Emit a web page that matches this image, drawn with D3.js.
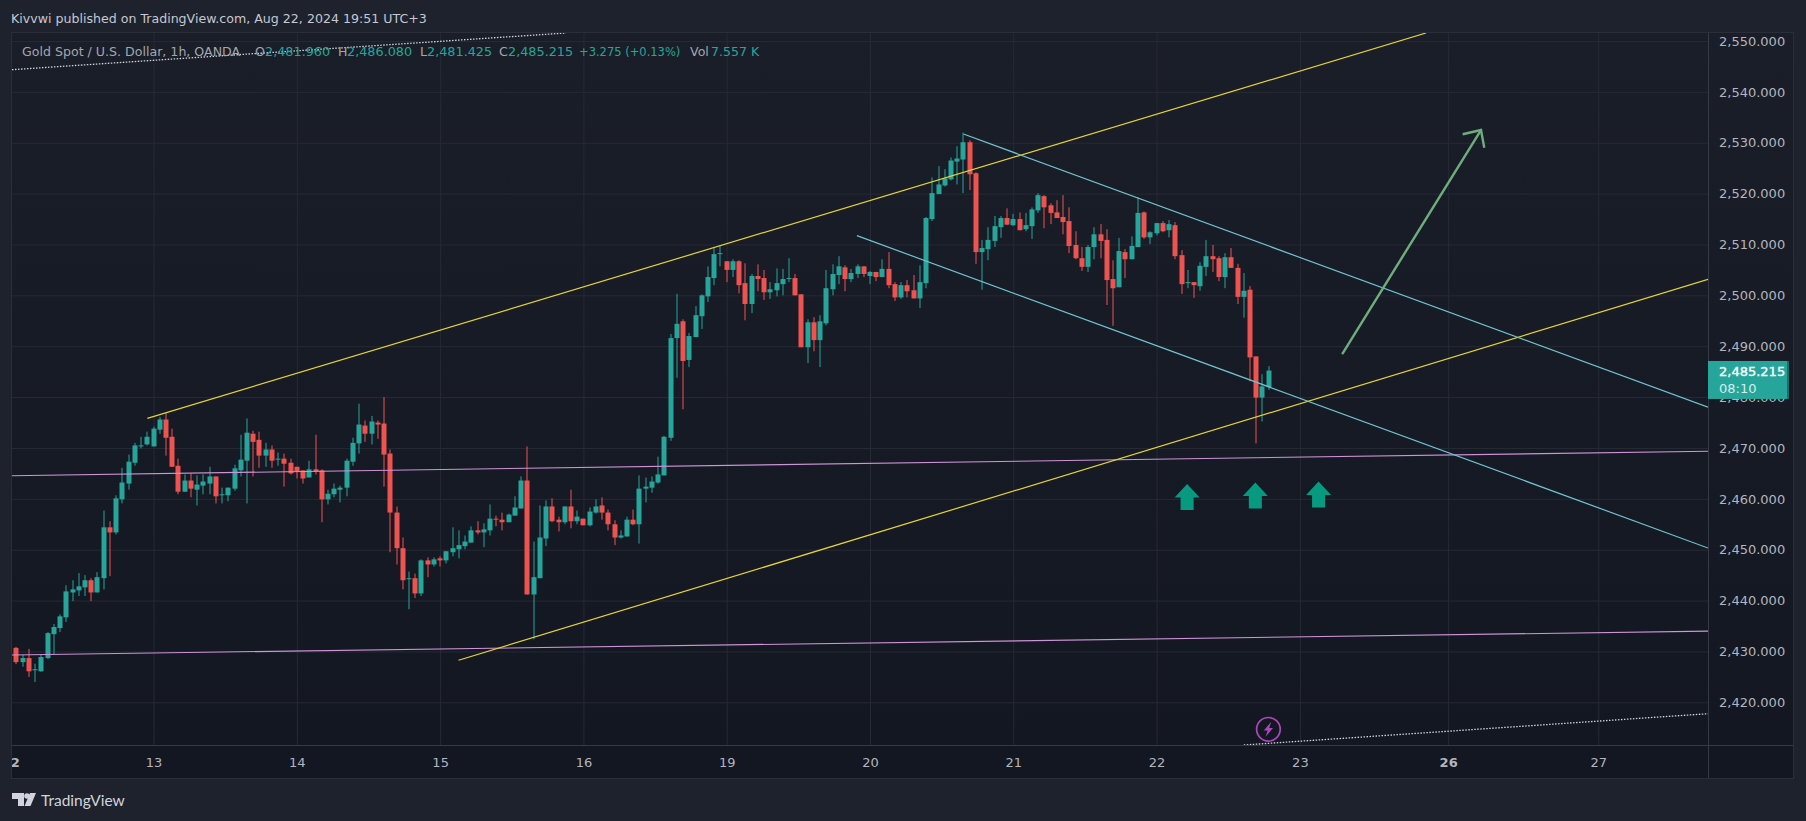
<!DOCTYPE html>
<html><head><meta charset="utf-8">
<script src="https://cdnjs.cloudflare.com/ajax/libs/d3/7.9.0/d3.min.js"></script>
<style>html,body{margin:0;padding:0;background:#1e222d;overflow:hidden}svg{display:block}text{font-family:"DejaVu Sans",sans-serif}</style>
</head><body><svg id="c" width="1806" height="821"></svg>
<script>
const opens=[2430.7,2427.9,2428.7,2426.4,2426.1,2428.7,2433.4,2434.6,2436.7,2441.6,
2442.0,2442.6,2444.0,2441.6,2444.4,2454.4,2453.4,2459.9,2463.0,2467.1,
2470.3,2470.7,2470.3,2473.6,2475.6,2472.2,2466.5,2461.4,2463.6,2461.8,
2462.6,2463.0,2464.4,2460.7,2460.7,2462.0,2465.6,2467.5,2472.8,2471.6,
2468.5,2469.7,2467.7,2467.9,2467.1,2466.3,2465.6,2464.2,2465.8,2465.6,
2459.9,2460.9,2461.8,2462.2,2467.3,2470.9,2474.4,2472.8,2475.0,2474.8,
2468.9,2457.3,2450.3,2444.2,2444.4,2441.4,2447.9,2447.1,2448.3,2447.9,
2449.5,2450.1,2450.7,2451.4,2453.8,2453.4,2453.8,2456.1,2455.9,2455.4,
2456.7,2458.1,2463.6,2441.2,2444.4,2452.2,2458.5,2455.9,2455.4,2458.5,
2455.6,2456.1,2454.8,2457.3,2458.7,2457.3,2455.0,2452.4,2452.6,2455.9,
2455.0,2462.0,2462.2,2463.2,2464.6,2472.0,2491.6,2494.9,2487.3,2491.8,
2495.9,2499.8,2503.4,2508.1,2506.7,2505.0,2506.7,2502.4,2498.3,2503.8,
2503.4,2500.6,2501.0,2502.2,2503.2,2503.4,2500.2,2489.8,2494.7,2491.2,
2494.5,2501.2,2504.0,2505.5,2503.2,2504.2,2505.7,2503.8,2504.6,2503.6,
2505.2,2502.2,2499.6,2502.0,2501.0,2499.4,2502.4,2515.0,2519.9,2521.6,
2522.8,2526.3,2526.7,2530.1,2524.0,2508.5,2509.1,2510.7,2513.4,2515.2,
2513.8,2515.0,2513.0,2513.6,2516.7,2519.5,2517.7,2516.3,2515.4,2514.6,
2509.9,2507.3,2505.6,2509.5,2512.0,2510.9,2503.2,2501.6,2508.5,2507.1,
2509.5,2516.3,2511.4,2512.2,2514.2,2512.8,2513.8,2507.9,2502.4,2502.6,
2501.8,2505.6,2507.7,2507.3,2503.6,2507.5,2505.4,2499.7,2501.1,2488.0,
2479.9,2481.96];
const highs=[2430.9,2429.3,2430.5,2427.6,2429.5,2433.8,2435.4,2437.3,2443.0,2444.0,
2445.4,2445.0,2444.4,2445.6,2457.7,2455.6,2460.7,2466.1,2468.7,2471.0,
2472.2,2473.2,2474.2,2476.1,2476.9,2473.8,2467.9,2464.8,2465.0,2464.6,
2464.8,2466.3,2464.4,2462.2,2462.2,2466.7,2472.6,2475.8,2473.4,2473.2,
2471.0,2470.5,2469.1,2468.9,2467.9,2466.3,2465.6,2467.5,2472.6,2465.8,
2461.8,2463.0,2462.6,2467.9,2472.0,2478.7,2475.4,2476.3,2475.4,2480.0,
2469.7,2458.5,2452.4,2445.7,2445.3,2448.1,2448.5,2448.5,2448.7,2449.7,
2454.4,2453.8,2452.8,2454.6,2455.6,2455.2,2458.9,2456.7,2457.3,2457.1,
2460.5,2464.4,2470.3,2451.6,2458.7,2459.7,2460.1,2456.5,2458.5,2461.8,
2457.7,2456.1,2458.3,2459.9,2460.3,2457.9,2455.8,2453.8,2456.5,2457.9,
2464.6,2464.2,2464.4,2468.3,2472.4,2492.4,2500.3,2495.3,2492.6,2497.9,
2500.2,2505.7,2509.3,2509.9,2506.7,2507.1,2506.9,2506.3,2504.2,2506.1,
2505.0,2502.6,2505.3,2505.2,2507.3,2504.2,2500.2,2495.3,2495.7,2496.1,
2505.0,2506.1,2507.7,2505.9,2505.2,2506.1,2505.7,2504.8,2504.6,2507.1,
2508.5,2502.6,2502.6,2503.0,2504.0,2505.9,2515.4,2523.2,2525.4,2524.8,
2527.1,2529.3,2532.0,2530.5,2524.2,2510.9,2513.4,2515.6,2515.6,2517.1,
2516.0,2516.3,2516.2,2517.3,2520.1,2519.7,2518.1,2518.7,2519.7,2517.3,
2512.6,2509.5,2509.9,2513.4,2514.0,2513.0,2506.9,2511.3,2509.1,2511.6,
2519.3,2516.5,2512.6,2514.2,2514.6,2514.8,2514.4,2508.9,2505.0,2502.6,
2506.5,2510.9,2509.9,2507.7,2508.3,2509.3,2506.2,2504.4,2501.8,2488.0,
2484.5,2486.08];
const lows=[2427.5,2427.0,2425.0,2424.0,2426.0,2428.5,2429.3,2433.8,2435.8,2439.9,
2440.9,2440.9,2439.9,2441.6,2442.2,2444.8,2453.0,2459.1,2461.8,2466.5,
2469.9,2470.5,2470.3,2472.8,2468.5,2466.3,2460.9,2461.4,2460.3,2458.7,
2460.9,2460.9,2459.1,2459.1,2459.5,2461.6,2464.4,2459.1,2464.4,2466.1,
2466.3,2466.1,2466.5,2462.4,2464.8,2464.0,2463.0,2464.2,2464.8,2455.4,
2458.9,2460.3,2459.3,2460.5,2466.5,2468.9,2471.2,2470.7,2471.8,2462.4,
2449.5,2447.1,2442.2,2438.3,2440.5,2440.9,2444.6,2446.7,2446.7,2447.3,
2448.7,2448.3,2450.1,2451.4,2453.0,2450.5,2452.8,2454.6,2453.8,2455.4,
2456.7,2458.1,2441.2,2432.4,2444.4,2450.7,2455.4,2453.6,2455.0,2454.2,
2455.0,2454.8,2454.6,2457.1,2455.9,2453.8,2450.9,2452.2,2452.6,2454.8,
2451.2,2459.3,2461.2,2463.0,2464.6,2471.4,2483.8,2477.6,2485.9,2491.8,
2493.4,2498.7,2502.0,2505.7,2502.6,2503.6,2500.4,2495.1,2496.5,2500.8,
2499.1,2499.3,2499.8,2500.0,2502.6,2500.0,2489.8,2486.7,2489.0,2485.9,
2494.1,2500.0,2502.2,2500.8,2502.6,2503.4,2503.6,2502.2,2502.8,2503.6,
2501.4,2498.9,2499.3,2499.6,2499.4,2497.5,2501.4,2514.6,2519.9,2521.4,
2522.6,2521.8,2520.1,2520.7,2506.2,2501.1,2506.9,2509.5,2511.3,2513.8,
2513.6,2512.8,2512.6,2511.1,2516.2,2513.2,2514.0,2515.2,2512.0,2508.3,
2507.1,2504.8,2504.6,2507.1,2507.3,2498.1,2494.0,2501.6,2503.4,2507.1,
2509.5,2511.1,2510.1,2511.8,2512.4,2511.4,2507.1,2500.3,2501.4,2499.5,
2500.9,2503.8,2504.6,2502.8,2501.4,2505.4,2498.3,2495.6,2483.1,2470.9,
2475.2,2481.425];
const closes=[2427.9,2428.7,2426.1,2426.5,2428.9,2433.6,2434.8,2436.9,2441.8,2442.2,
2442.8,2444.0,2441.6,2444.6,2454.4,2453.4,2460.1,2463.2,2467.3,2470.5,
2470.5,2472.2,2473.8,2475.6,2472.0,2466.3,2461.4,2463.6,2462.0,2462.8,
2463.4,2464.4,2460.5,2460.9,2462.2,2466.0,2467.7,2473.0,2471.2,2468.5,
2469.7,2467.5,2467.9,2466.9,2465.0,2465.4,2464.0,2465.8,2465.4,2459.9,
2461.0,2462.0,2462.2,2467.5,2471.0,2474.6,2472.8,2475.2,2474.6,2468.7,
2457.3,2450.3,2444.0,2444.4,2441.4,2447.9,2447.1,2448.1,2447.9,2449.7,
2450.3,2450.9,2451.6,2453.8,2453.4,2454.0,2456.1,2455.9,2455.4,2456.9,
2458.3,2463.6,2441.2,2444.6,2452.4,2458.5,2455.6,2455.4,2458.5,2455.6,
2456.5,2454.8,2457.5,2458.5,2457.3,2455.0,2452.4,2452.8,2455.9,2455.0,
2462.0,2462.4,2463.4,2464.8,2472.2,2491.6,2494.4,2487.1,2492.0,2496.1,
2500.0,2503.6,2508.1,2508.3,2505.0,2506.7,2502.0,2498.3,2503.8,2503.2,
2500.6,2501.2,2502.4,2503.2,2503.4,2500.0,2489.8,2494.7,2491.2,2494.9,
2501.4,2504.2,2505.7,2503.2,2504.4,2505.7,2504.2,2504.6,2503.6,2505.2,
2502.0,2499.6,2502.0,2500.8,2499.4,2502.6,2515.2,2520.1,2521.8,2523.0,
2526.5,2526.9,2530.1,2523.8,2508.5,2509.3,2510.9,2513.6,2515.2,2513.9,
2515.0,2512.8,2513.8,2516.9,2519.7,2517.3,2516.2,2515.2,2514.4,2509.7,
2507.3,2505.6,2509.5,2512.0,2510.7,2503.0,2501.4,2508.7,2507.1,2509.7,
2516.2,2511.4,2512.4,2514.2,2512.6,2514.0,2507.7,2502.2,2502.6,2502.0,
2505.8,2507.7,2507.1,2503.6,2507.5,2505.4,2499.7,2500.9,2487.8,2479.9,
2482.1,2485.215];

const priceTicks=[2550,2540,2530,2520,2510,2500,2490,2480,2470,2460,2450,2440,2430,2420];
const dayBars=[-1,22,45,68,91,114,137,160,183,206,229.8,253.9];
const dayLabels=["12","13","14","15","16","19","20","21","22","23","26","27"];

// Drawing tools: [bar, price] pairs
const yellowUpper=[[21.0,2475.83],[226.25,2551.57]];
const yellowLower=[[70.95,2428.26],[271.51,2503.16]];
const cyanUpper=[[152,2531.72],[271.51,2478.0]];
const cyanLower=[[134.9,2511.73],[271.51,2450.33]];
const pinkUpper=[[-0.72,2464.55],[271.51,2469.35]];
const pinkLower=[[-0.72,2429.3],[271.51,2434.0]];
const dottedUpper=[[-0.72,2544.36],[88.2,2551.57]];
const dottedLower=[[197,2411.61],[271.51,2417.76]];
const greenArrow=[[212.87,2488.6],[235.07,2532.5]];
const greenArrowHead=[[232.13,2531.66],[235.07,2532.5],[235.6,2529.03]];
const upArrows=[[187.9,2462.9],[198.85,2463.2],[209,2463.4]];
const boltMark=[200.95,2414.7];
const lastPrice=2485.215;

const L=12,R=1708,T=33,B=745,FR=1793,FB=778;
const x=d3.scaleLinear().domain([-0.7223,271.51]).range([L,R]);
const y=d3.scaleLinear().domain([2411.61,2551.57]).range([B,T]);
const svg=d3.select("#c");
const defs=svg.append("defs");
const g=defs.append("linearGradient").attr("id","bg").attr("x1",0).attr("x2",0).attr("y1",0).attr("y2",1);
g.append("stop").attr("offset",0).attr("stop-color","#1a1e29");
g.append("stop").attr("offset",1).attr("stop-color","#131722");
defs.append("clipPath").attr("id","plot").append("rect").attr("x",L).attr("y",T).attr("width",R-L).attr("height",B-T);
defs.append("clipPath").attr("id","timeclip").append("rect").attr("x",L).attr("y",B).attr("width",R-L).attr("height",FB-B);

svg.append("rect").attr("width",1806).attr("height",821).attr("fill","#1e222d");
svg.append("rect").attr("x",L).attr("y",T).attr("width",FR-L).attr("height",B-T).attr("fill","url(#bg)");
svg.append("rect").attr("x",L).attr("y",B).attr("width",FR-L).attr("height",FB-B).attr("fill","#131722");

// grid
const gridY=svg.append("g").attr("transform",`translate(${L},0)`).call(d3.axisRight(y).tickValues(priceTicks).tickSize(R-L).tickFormat(""));
const gridX=svg.append("g").attr("transform",`translate(0,${T})`).call(d3.axisBottom(x).tickValues(dayBars.slice(1)).tickSize(B-T).tickFormat(""));
[gridY,gridX].forEach(a=>{a.select(".domain").remove();a.selectAll("line").attr("stroke","#262a35").attr("stroke-width",1);});

const plot=svg.append("g").attr("clip-path","url(#plot)");
const line=d3.line().x(d=>x(d[0])).y(d=>y(d[1]));
function draw(pts,color,w,dash){const p=plot.append("path").attr("d",line(pts)).attr("fill","none").attr("stroke",color).attr("stroke-width",w);if(dash)p.attr("stroke-dasharray",dash);return p;}

draw(dottedUpper,"#d1d4dc",1.3,"1.5 1.5");
draw(dottedLower,"#d1d4dc",1.3,"1.5 1.5");

// candles
const candles=opens.map((o,i)=>({i,o,h:highs[i],l:lows[i],c:closes[i]}));
const up="#26a69a",dn="#ef5350";
const cg=plot.append("g");
cg.selectAll("rect.w").data(candles).join("rect").attr("class","w")
 .attr("x",d=>Math.round(x(d.i))-0.5).attr("width",1)
 .attr("y",d=>y(d.h)).attr("height",d=>Math.max(1,y(d.l)-y(d.h)))
 .attr("fill",d=>d.c>=d.o?up:dn);
cg.selectAll("rect.b").data(candles).join("rect").attr("class","b")
 .attr("x",d=>Math.round(x(d.i))-2.5).attr("width",5)
 .attr("y",d=>y(Math.max(d.o,d.c))).attr("height",d=>Math.max(1,Math.abs(y(d.o)-y(d.c))))
 .attr("fill",d=>d.c>=d.o?up:dn);

draw(pinkUpper,"#ce93d8",1.1);
draw(pinkLower,"#ce93d8",1.1);
draw(yellowUpper,"#e6d332",1.2);
draw(yellowLower,"#e6d332",1.2);
draw(cyanUpper,"#6fc3cf",1.2);
draw(cyanLower,"#6fc3cf",1.2);
draw(greenArrow,"#6fae7c",2.4).attr("stroke-linecap","round");
draw(greenArrowHead,"#6fae7c",2.4).attr("stroke-linejoin","miter");

// up arrows (tip anchored at data point)
plot.selectAll("path.ua").data(upArrows).join("path").attr("class","ua")
 .attr("d","M0 0L12.5 13.5L6.5 13.5L6.5 26L-6.5 26L-6.5 13.5L-12.5 13.5Z")
 .attr("transform",d=>`translate(${x(d[0])},${y(d[1])})`).attr("fill","#089981");

// bolt mark
const bm=plot.append("g").attr("transform",`translate(${x(boltMark[0])},${y(boltMark[1])})`);
bm.append("circle").attr("r",11.8).attr("fill","#131722").attr("stroke","#ab47bc").attr("stroke-width",1.7);
bm.append("path").attr("d","M2.8 -7.5L-4.6 1.2L-0.8 1.2L-2.8 7.5L4.6 -1.2L0.8 -1.2Z").attr("fill","#ab47bc");

// axes
const yAxis=svg.append("g").attr("transform",`translate(${R},0)`).call(d3.axisRight(y).tickValues(priceTicks).tickSize(0).tickPadding(11).tickFormat(d3.format(",.3f")));
yAxis.select(".domain").remove();
yAxis.selectAll("text").attr("fill","#b2b5be").style("font-size","13px").style("font-family",'"DejaVu Sans",sans-serif');
const xAxisWrap=svg.append("g").attr("clip-path","url(#timeclip)");
const xAxis=xAxisWrap.append("g").attr("transform",`translate(0,${B})`).call(d3.axisBottom(x).tickValues(dayBars).tickSize(0).tickPadding(13).tickFormat((d,i)=>dayLabels[i]));
xAxis.select(".domain").remove();
xAxis.selectAll("text").attr("fill","#b2b5be").style("font-size","13px").style("font-family",'"DejaVu Sans",sans-serif')
 .style("font-weight",(d,i)=>dayLabels[i]==="26"||dayLabels[i]==="12"?"bold":"normal");

// frame
const border="#2a2e39";
svg.append("rect").attr("x",L-0.5).attr("y",T-0.5).attr("width",FR-L+1).attr("height",FB-T+1).attr("fill","none").attr("stroke",border).attr("stroke-width",1);
svg.append("line").attr("x1",R+0.5).attr("x2",R+0.5).attr("y1",T).attr("y2",FB).attr("stroke","#363a45");
svg.append("line").attr("x1",L).attr("x2",FR).attr("y1",B+0.5).attr("y2",B+0.5).attr("stroke","#363a45");

// last price label
const ly=y(lastPrice);
svg.append("rect").attr("x",R).attr("y",ly-9.6).attr("width",79).attr("height",38).attr("fill","#26a69a");
svg.append("rect").attr("x",R+79).attr("y",ly-9.6).attr("width",2).attr("height",38).attr("fill","#1b6f68");
svg.append("text").attr("x",R+11).attr("y",ly+5.6).attr("fill","#ffffff").attr("stroke","#ffffff").attr("stroke-width",0.35).attr("font-size",13).text(d3.format(",.3f")(lastPrice));
svg.append("text").attr("x",R+11).attr("y",ly+22).attr("fill","#d3eeea").attr("font-size",13).text("08:10");

// header
svg.append("text").attr("x",11).attr("y",23).attr("fill","#c5c8d0").attr("font-size",12.6).text("Kivvwi published on TradingView.com, Aug 22, 2024 19:51 UTC+3");

// legend
const legendG="#26a69a",legendT="#a3a6af";
[["Gold Spot / U.S. Dollar, 1h, OANDA",22,legendT,12.6],["O",255,legendT,12.6],["2,481.960",265,legendG,12.8],["H",338,legendT,12.6],["2,486.080",347,legendG,12.8],
 ["L",420,legendT,12.6],["2,481.425",427,legendG,12.8],["C",499,legendT,12.6],["2,485.215",508,legendG,12.8],["+3.275 (+0.13%)",579,legendG,11.5],["Vol",690,legendT,12.6],["7.557 K",711,legendG,12.6]]
 .forEach(([t,px,col,fs])=>svg.append("text").attr("x",px).attr("y",56).attr("fill",col).attr("font-size",fs).text(t));

// logo
const logo=svg.append("g").attr("fill","#d1d4dc");
logo.append("path").attr("d","M12 793H24V806H18V799H12Z");
logo.append("circle").attr("cx",27).attr("cy",796).attr("r",2.8);
logo.append("path").attr("d","M30 793H36L30.5 806H24.5Z");
svg.append("text").attr("x",41).attr("y",805.5).attr("fill","#d1d4dc").attr("font-size",15.5).style("font-family","Lato,sans-serif").text("TradingView");
</script></body></html>
